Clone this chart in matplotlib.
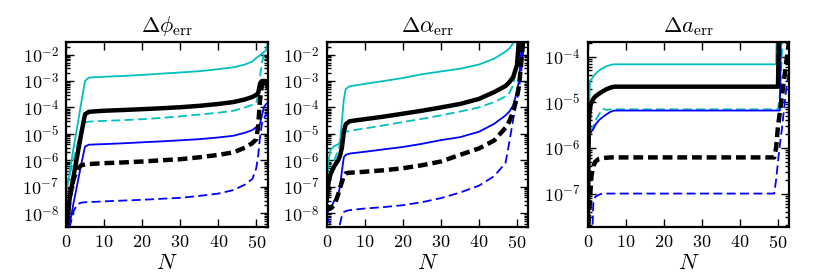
import math
import matplotlib
matplotlib.use("Agg")
import matplotlib.pyplot as plt
from matplotlib.ticker import LogLocator, NullFormatter, FixedLocator

plt.rcParams['mathtext.fontset'] = 'cm'
plt.rcParams['font.family'] = 'serif'
plt.rcParams['font.serif'] = ['cmr10', 'DejaVu Serif']
plt.rcParams['axes.formatter.use_mathtext'] = True
plt.rcParams['axes.unicode_minus'] = False

# ---------------- Panel 1: Delta phi_err ----------------
N_phi = [0, 0.5, 1, 2, 3, 4, 5, 6, 8, 10, 15, 20, 25, 30, 35, 40, 44, 47, 49, 50, 50.5, 51, 51.5, 52, 52.5, 53]
phi_cyan_solid = [5e-8, 1.3e-7, 4e-7, 3e-6, 2e-5, 1.5e-4, 1e-3, 1.35e-3, 1.4e-3, 1.45e-3, 1.55e-3, 1.7e-3, 1.9e-3,
                  2.1e-3, 2.35e-3, 2.8e-3, 3.3e-3, 4.2e-3, 5.5e-3, 7.5e-3, 8.3e-3, 9.5e-3, 1.1e-2, 1.25e-2, 1.4e-2, 1.55e-2]
phi_cyan_dashed = [1e-7, 1.7e-7, 3e-7, 1e-6, 4e-6, 1.3e-5, 2.7e-5, 2.9e-5, 3e-5, 3.1e-5, 3.3e-5, 3.6e-5, 4e-5,
                   4.6e-5, 5.4e-5, 6.3e-5, 7.5e-5, 1e-4, 1.25e-4, 1.5e-4, 3e-4, 1.5e-3, 5e-3, 1e-2, 1.5e-2, 2.5e-2]
phi_black_solid = [4e-9, 1e-8, 4e-8, 2.5e-7, 1.6e-6, 1e-5, 5.5e-5, 6.8e-5, 7.2e-5, 7.5e-5, 8e-5, 8.6e-5, 9.3e-5,
                   1.02e-4, 1.15e-4, 1.35e-4, 1.6e-4, 2e-4, 2.5e-4, 3e-4, 3.5e-4, 8e-4, 1e-3, 1e-3, 1e-3, 6e-4]
phi_black_dashed = [3e-9, 8e-9, 4e-8, 2e-7, 4.5e-7, 6.5e-7, 7e-7, 7.2e-7, 7.5e-7, 7.8e-7, 8.3e-7, 9e-7, 1e-6,
                    1.1e-6, 1.3e-6, 1.6e-6, 2e-6, 3e-6, 4.5e-6, 6.3e-6, 2e-5, 2e-4, 7e-4, 9e-4, 1e-3, 9e-4]
phi_blue_solid = [1e-9, 2e-9, 4e-9, 2.5e-8, 1.3e-7, 7e-7, 3.3e-6, 3.9e-6, 4e-6, 4.1e-6, 4.4e-6, 4.8e-6, 5.2e-6,
                  5.7e-6, 6.3e-6, 7.3e-6, 8.5e-6, 1.1e-5, 1.4e-5, 1.8e-5, 2e-5, 2.5e-5, 5e-5, 1e-4, 1.3e-4, 1.5e-4]
phi_blue_dashed = [1e-9, 1e-9, 3e-9, 1.2e-8, 2.2e-8, 2.5e-8, 2.6e-8, 2.65e-8, 2.7e-8, 2.8e-8, 3e-8, 3.2e-8, 3.5e-8,
                   3.8e-8, 4.5e-8, 5.5e-8, 7.5e-8, 1.2e-7, 2e-7, 5e-7, 1.5e-6, 8e-6, 2.5e-5, 4e-5, 5e-5, 6e-5]

# ---------------- Panel 2: Delta alpha_err ----------------
N_alpha = [0, 0.5, 1, 2, 3, 3.5, 4, 4.5, 5, 6, 8, 10, 15, 20, 25, 30, 35, 40, 44, 47, 48, 49, 50, 50.5, 51, 51.5, 52, 53]
alpha_cyan_solid = [1e-7, 1e-6, 2.5e-6, 3.5e-6, 4e-6, 5e-6, 3e-5, 2e-4, 5e-4, 6.3e-4, 7e-4, 7.8e-4, 1e-3, 1.3e-3,
                    1.8e-3, 2.3e-3, 2.9e-3, 4.2e-3, 7e-3, 1.3e-2, 1.7e-2, 2.7e-2, 5e-2, 1e-1, 1e-1, 1e-1, 1e-1, 1e-1]
alpha_cyan_dashed = [1e-7, 2e-7, 3e-7, 1e-6, 2.5e-6, 4e-6, 8e-6, 1.1e-5, 1.2e-5, 1.3e-5, 1.45e-5, 1.6e-5, 2.1e-5, 2.8e-5,
                     3.7e-5, 5e-5, 7e-5, 1e-4, 1.6e-4, 2.6e-4, 3.5e-4, 7e-4, 4e-3, 3e-2, 1e-1, 1e-1, 1e-1, 1e-1]
alpha_black_solid = [3e-8, 1.5e-7, 3e-7, 6e-7, 1e-6, 1.5e-6, 3e-6, 1.2e-5, 2.3e-5, 3e-5, 3.3e-5, 3.6e-5, 4.5e-5, 5.8e-5,
                     7.5e-5, 1e-4, 1.35e-4, 2.1e-4, 3.8e-4, 6.5e-4, 9e-4, 1.4e-3, 4e-3, 3e-2, 1e-1, 1e-1, 1e-1, 1e-1]
alpha_black_dashed = [2e-8, 1.5e-8, 1.5e-8, 2e-8, 5e-8, 9e-8, 1.5e-7, 2.5e-7, 3.2e-7, 3.4e-7, 3.5e-7, 3.7e-7, 4.2e-7, 5e-7,
                      6.5e-7, 9e-7, 1.6e-6, 2.8e-6, 5.6e-6, 1.7e-5, 3e-5, 7e-5, 2.5e-4, 6e-4, 3e-3, 2e-2, 1e-1, 1e-1]
alpha_blue_solid = [1e-8, 1.2e-8, 1.5e-8, 3e-8, 5e-8, 1e-7, 4e-7, 1.3e-6, 1.6e-6, 1.8e-6, 1.95e-6, 2.1e-6, 2.6e-6, 3.2e-6,
                    4.2e-6, 5.8e-6, 7.5e-6, 1.2e-5, 2.4e-5, 5e-5, 7e-5, 1.2e-4, 4e-4, 1e-3, 7e-3, 1e-1, 1e-1, 1e-1]
alpha_blue_dashed = [8e-9, 5e-9, 4e-9, 3e-9, 2e-9, 4e-9, 8e-9, 1.1e-8, 1.2e-8, 1.3e-8, 1.4e-8, 1.5e-8, 1.7e-8, 2e-8,
                     2.6e-8, 3.7e-8, 6e-8, 1.1e-7, 2.5e-7, 8e-7, 4.9e-6, 3.5e-5, 1.8e-4, 5e-4, 1.6e-3, 8e-3, 1e-1, 1e-1]

# ---------------- Panel 3: Delta a_err ----------------
N_a = [0, 0.3, 0.6, 1, 1.5, 2, 3, 4, 5, 6, 7, 10, 20, 30, 40, 48, 49, 49.5, 50, 50.5, 51, 51.5, 52, 52.5, 53]
a_cyan_solid = [1e-8, 5e-6, 3e-5, 3.2e-5, 3.7e-5, 4.2e-5, 5e-5, 5.6e-5, 6.2e-5, 6.6e-5, 6.8e-5, 6.8e-5, 6.8e-5,
                6.8e-5, 6.8e-5, 6.8e-5, 6.8e-5, 6.8e-5, 1e-2, 1e-2, 1e-2, 1e-2, 1e-2, 1e-2, 1e-2]
a_cyan_dashed = [1e-8, 1e-6, 2e-6, 2.5e-6, 3e-6, 4e-6, 5.5e-6, 7.2e-6, 6.8e-6, 7e-6, 7e-6, 7e-6, 7e-6,
                 7e-6, 7e-6, 7e-6, 7e-6, 7e-6, 7e-6, 1.5e-5, 1e-4, 1e-3, 1e-2, 1e-2, 1e-2]
a_black_solid = [1e-8, 4e-6, 8e-6, 1e-5, 1.2e-5, 1.35e-5, 1.55e-5, 1.75e-5, 1.95e-5, 2.1e-5, 2.2e-5, 2.2e-5, 2.2e-5,
                 2.2e-5, 2.2e-5, 2.2e-5, 2.2e-5, 2.2e-5, 2.2e-5, 1e-2, 1e-2, 1e-2, 1e-2, 1e-2, 1e-2]
a_black_dashed = [1e-8, 3e-8, 8e-8, 2.5e-7, 4e-7, 5e-7, 5.8e-7, 6e-7, 6.1e-7, 6.2e-7, 6.2e-7, 6.2e-7, 6.2e-7,
                  6.2e-7, 6.2e-7, 6.2e-7, 6.2e-7, 1e-6, 3e-6, 6e-6, 1.3e-5, 2.7e-5, 6e-5, 1.2e-4, 2.5e-4]
a_blue_solid = [1e-8, 1e-6, 2e-6, 2.3e-6, 2.6e-6, 3.2e-6, 4.1e-6, 4.8e-6, 5.5e-6, 6.2e-6, 6.6e-6, 6.6e-6, 6.6e-6,
                6.6e-6, 6.6e-6, 6.6e-6, 6.6e-6, 6.6e-6, 6.6e-6, 6.6e-6, 1e-2, 1e-2, 1e-2, 1e-2, 1e-2]
a_blue_dashed = [1e-9, 1e-9, 1e-9, 5e-9, 7e-8, 8.5e-8, 9.5e-8, 1e-7, 1e-7, 1e-7, 1e-7, 1e-7, 1e-7,
                 1e-7, 1e-7, 1e-7, 1e-7, 2e-7, 5e-7, 1.2e-6, 2.5e-6, 6e-6, 1.5e-5, 3e-5, 6e-5]

titles = [r'$\Delta\phi_{\rm err}$', r'$\Delta\alpha_{\rm err}$', r'$\Delta a_{\rm err}$']
x_ticks = [0, 10, 20, 30, 40, 50]

panels = [
    (N_phi, [phi_cyan_solid, phi_cyan_dashed, phi_blue_solid, phi_blue_dashed, phi_black_solid, phi_black_dashed],
     (3e-9, 3e-2), [1e-8, 1e-7, 1e-6, 1e-5, 1e-4, 1e-3, 1e-2]),
    (N_alpha, [alpha_cyan_solid, alpha_cyan_dashed, alpha_blue_solid, alpha_blue_dashed, alpha_black_solid, alpha_black_dashed],
     (3e-9, 3e-2), [1e-8, 1e-7, 1e-6, 1e-5, 1e-4, 1e-3, 1e-2]),
    (N_a, [a_cyan_solid, a_cyan_dashed, a_blue_solid, a_blue_dashed, a_black_solid, a_black_dashed],
     (1.85e-8, 2.1e-4), [1e-7, 1e-6, 1e-5, 1e-4]),
]

styles = [
    dict(color='c', lw=1.3, ls='-'),
    dict(color='c', lw=1.3, ls=(0, (5, 2.4))),
    dict(color='b', lw=1.3, ls='-'),
    dict(color='b', lw=1.3, ls=(0, (5, 2.4))),
    dict(color='k', lw=3.2, ls='-'),
    dict(color='k', lw=3.2, ls=(0, (2.2, 1.1))),
]

fig = plt.figure(figsize=(8.30, 2.77), dpi=100)
lefts = [0.0795, 0.3936, 0.7081]
for i, (N, series, ylim, yticks) in enumerate(panels):
    ax = fig.add_axes([lefts[i], 0.1805, 0.2430, 0.668])
    for s, st in zip(series, styles):
        ax.plot(N, s, **st)
    ax.set_yscale('log')
    ax.set_xlim(0, 53)
    ax.set_ylim(*ylim)
    ax.set_xticks(x_ticks)
    ax.set_xticklabels([f'${t}$' for t in x_ticks], fontsize=13)
    ax.yaxis.set_major_locator(FixedLocator(yticks))
    ax.yaxis.set_minor_locator(LogLocator(base=10, subs=[2, 3, 4, 5, 6, 7, 8, 9], numticks=20))
    ax.yaxis.set_minor_formatter(NullFormatter())
    ax.set_yticklabels([r'$10^{%d}$' % round(math.log10(t)) for t in yticks], fontsize=13)
    ax.tick_params(which='both', direction='in', top=True, right=True, width=1.0)
    ax.tick_params(which='major', length=6, pad=5)
    ax.tick_params(which='minor', length=3)
    for sp in ax.spines.values():
        sp.set_linewidth(1.6)
    ax.set_title(titles[i], fontsize=16, pad=7)
    ax.set_xlabel(r'$N$', fontsize=16, labelpad=2)

fig.savefig('out.png', dpi=100)
